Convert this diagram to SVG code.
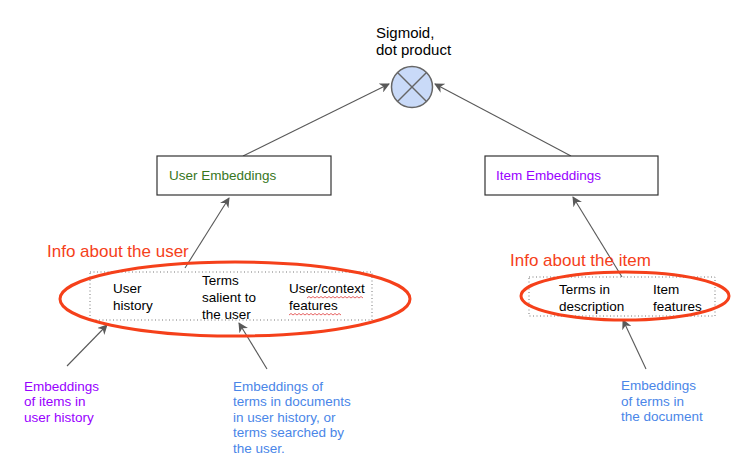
<svg xmlns="http://www.w3.org/2000/svg" width="749" height="459" viewBox="0 0 749 459">
<defs>
<marker id="ah" viewBox="0 0 10 10" refX="9" refY="5" markerWidth="10" markerHeight="10" markerUnits="userSpaceOnUse" orient="auto">
<path d="M0,0 L10,5 L0,10 L3,5 Z" fill="#595959"/>
</marker>
</defs>
<style>
text{font-family:"Liberation Sans",Arial,sans-serif;font-size:13.5px;fill:#000}
.box{fill:#fff;stroke:#333;stroke-width:1.2}
.dot{fill:none;stroke:#777;stroke-width:1;stroke-dasharray:1 2.5}
.red{fill:none;stroke:#f5401a;stroke-width:3}
.conn{stroke:#595959;stroke-width:1.1;fill:none;marker-end:url(#ah)}
.sq{fill:none;stroke:#e03c3c;stroke-width:0.8}
.info{font-size:17px;fill:#f5401a}
.purple{fill:#9900ff}
.blue{fill:#4a86e8}
.green{fill:#38761d}
</style>
<rect width="749" height="459" fill="#fff"/>

<g id="connectors">
<line class="conn" x1="243" y1="156" x2="389" y2="84"/>
<line class="conn" x1="571" y1="156" x2="435" y2="84"/>
<line class="conn" x1="185" y1="268" x2="229" y2="198"/>
<line class="conn" x1="622" y1="277" x2="573" y2="197"/>
<line class="conn" x1="67" y1="366" x2="107" y2="325"/>
<line class="conn" x1="267" y1="369" x2="239" y2="323"/>
<line class="conn" x1="646" y1="369" x2="623" y2="320"/>
</g>

<g id="sigmoid">
<text x="376" y="38" style="font-size:15px">Sigmoid,</text>
<text x="376" y="55" style="font-size:15px">dot product</text>
<circle cx="412" cy="87" r="20.5" fill="#c9daf8" stroke="#666" stroke-width="1.5"/>
<line x1="397.5" y1="72.5" x2="426.5" y2="101.5" stroke="#666" stroke-width="1.5"/>
<line x1="426.5" y1="72.5" x2="397.5" y2="101.5" stroke="#666" stroke-width="1.5"/>
</g>

<g id="user-embeddings">
<rect class="box" x="157" y="156" width="174" height="39"/>
<text class="green" x="169" y="180">User Embeddings</text>
</g>

<g id="item-embeddings">
<rect class="box" x="485" y="156" width="173" height="39"/>
<text class="purple" x="496" y="180">Item Embeddings</text>
</g>

<g id="user-info">
<rect class="dot" x="90" y="272" width="282" height="48"/>
<text class="info" x="47" y="257">Info about the user</text>
<text x="113" y="293">User</text>
<text x="113" y="310">history</text>
<text x="202" y="285">Terms</text>
<text x="202" y="302">salient to</text>
<text x="202" y="319">the user</text>
<text x="289" y="293">User/context</text>
<text x="289" y="310">features</text>
<path class="sq" d="M307,298 l2,-1.5 l2,1.5 l2,-1.5 l2,1.5 l2,-1.5 l2,1.5 l2,-1.5 l2,1.5 l2,-1.5 l2,1.5 l2,-1.5 l2,1.5 l2,-1.5 l2,1.5 l2,-1.5 l2,1.5 l2,-1.5 l2,1.5 l2,-1.5 l2,1.5 l2,-1.5 l2,1.5 l2,-1.5 l2,1.5 l2,-1.5 l2,1.5 l2,-1.5 l2,1.5"/>
<path class="sq" d="M289,315 l2,-1.5 l2,1.5 l2,-1.5 l2,1.5 l2,-1.5 l2,1.5 l2,-1.5 l2,1.5 l2,-1.5 l2,1.5 l2,-1.5 l2,1.5 l2,-1.5 l2,1.5 l2,-1.5 l2,1.5 l2,-1.5 l2,1.5 l2,-1.5 l2,1.5 l2,-1.5 l2,1.5 l2,-1.5 l2,1.5 l2,-1.5 l2,1.5"/>
<ellipse class="red" cx="235" cy="299" rx="175" ry="37"/>
</g>

<g id="item-info">
<rect class="dot" x="529" y="277" width="186" height="39"/>
<text class="info" x="510" y="266">Info about the item</text>
<text x="559" y="294">Terms in</text>
<text x="559" y="311">description</text>
<text x="653" y="294">Item</text>
<text x="653" y="311">features</text>
<ellipse class="red" cx="625" cy="296" rx="104" ry="24"/>
</g>

<g id="item-history-note">
<text class="purple" x="24" y="391">Embeddings</text>
<text class="purple" x="24" y="406">of items in</text>
<text class="purple" x="24" y="422">user history</text>
</g>

<g id="terms-history-note">
<text class="blue" x="233" y="391">Embeddings of</text>
<text class="blue" x="233" y="406">terms in documents</text>
<text class="blue" x="233" y="422">in user history, or</text>
<text class="blue" x="233" y="437">terms searched by</text>
<text class="blue" x="233" y="453">the user.</text>
</g>

<g id="doc-terms-note">
<text class="blue" x="621" y="390">Embeddings</text>
<text class="blue" x="621" y="406">of terms in</text>
<text class="blue" x="621" y="421">the document</text>
</g>
</svg>
